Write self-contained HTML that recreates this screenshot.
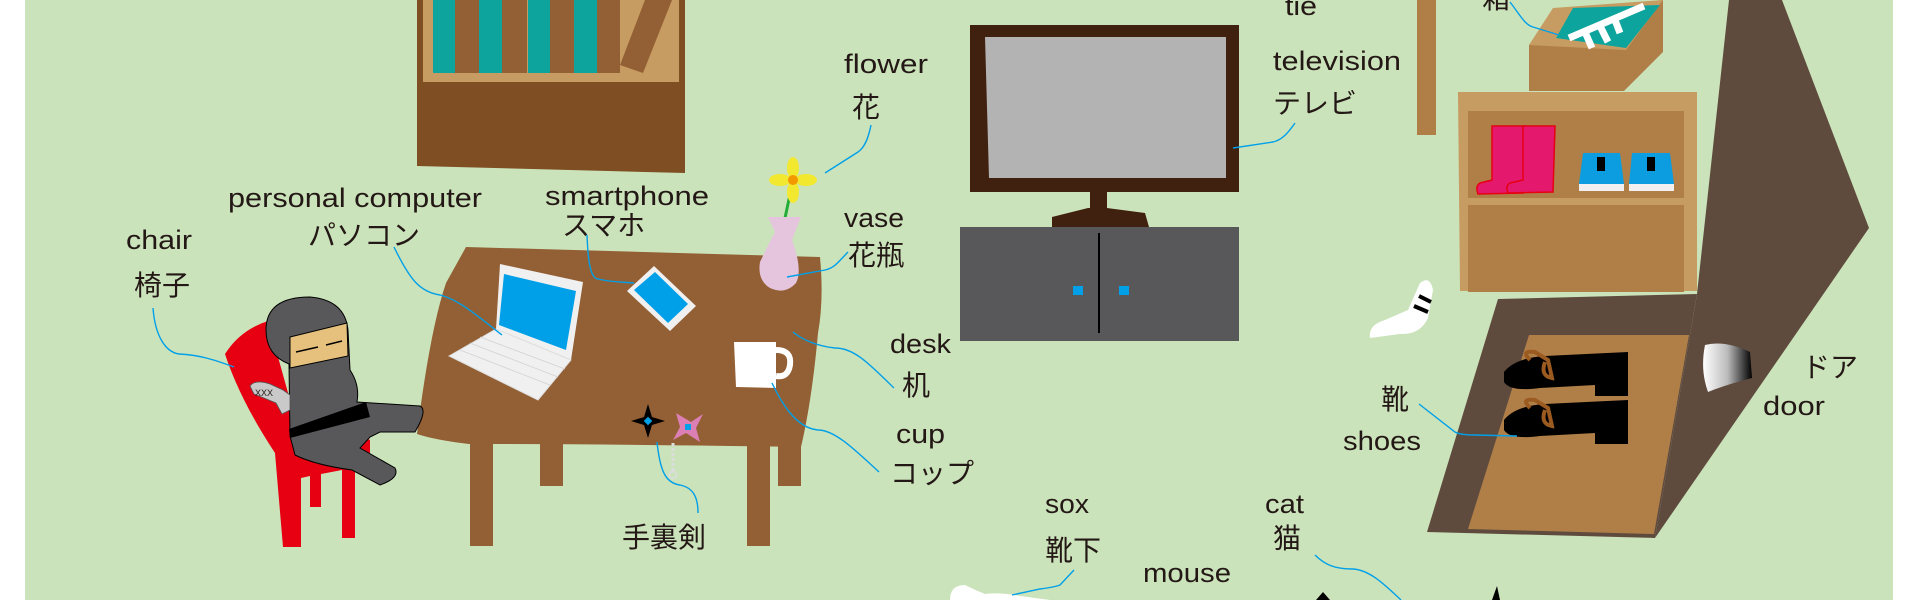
<!DOCTYPE html>
<html><head><meta charset="utf-8"><style>
html,body{margin:0;padding:0;background:#fff;}
svg{display:block;}
text{font-family:"Liberation Sans","Noto Sans CJK JP",sans-serif;fill:#231815;}
.l{font-size:27px;}
.j{font-size:28px;}
.c{fill:none;stroke:#00a0e9;stroke-width:1.4;}
</style></head><body>
<svg width="1920" height="600" viewBox="0 0 1920 600" xmlns="http://www.w3.org/2000/svg">
<defs>
<linearGradient id="hg" x1="0" x2="1" y1="0" y2="0"><stop offset="0" stop-color="#fff"/><stop offset="0.5" stop-color="#bbb"/><stop offset="1" stop-color="#000"/></linearGradient>
</defs>
<rect x="25" y="0" width="1868" height="600" fill="#cbe3bb"/>

<!-- bookshelf -->
<polygon points="417,0 685,0 685,173 417,166" fill="#7f4e22"/>
<rect x="423" y="0" width="256" height="82" fill="#c69c62"/>
<rect x="433" y="0" width="22" height="73" fill="#0ca49c"/>
<rect x="455" y="0" width="24" height="73" fill="#935f34"/>
<rect x="479" y="0" width="23" height="73" fill="#0ca49c"/>
<rect x="502" y="0" width="25" height="73" fill="#935f34"/>
<rect x="528" y="0" width="22" height="73" fill="#0ca49c"/>
<rect x="550" y="0" width="24" height="73" fill="#935f34"/>
<rect x="574" y="0" width="23" height="73" fill="#0ca49c"/>
<rect x="597" y="0" width="23" height="73" fill="#935f34"/>
<polygon points="645,0 672,0 643,73 620,65" fill="#935f34"/>

<!-- desk -->
<path d="M466,247 L820,257 Q824,300 818,333 Q812,400 801,447 Q620,444 469,444 Q435,440 417,434 Q430,330 446,283 Z" fill="#935f34"/>
<rect x="470" y="440" width="23" height="106" fill="#935f34"/>
<rect x="540" y="440" width="23" height="46" fill="#935f34"/>
<rect x="747" y="440" width="23" height="106" fill="#935f34"/>
<rect x="778" y="440" width="23" height="46" fill="#935f34"/>

<!-- laptop -->
<polygon points="500,264 583,282 571,360 496,329" fill="#f0f0f0"/>
<polygon points="504,274 576,291 566,350 499,325" fill="#00a0e9"/>
<polygon points="449,356 496,329 571,360 538,400" fill="#f0f0f0" stroke="#ddd" stroke-width="1"/>
<g stroke="#d2d2d2" stroke-width="0.8">
<line x1="460" y1="350" x2="550" y2="385"/><line x1="470" y1="343" x2="558" y2="377"/><line x1="480" y1="337" x2="565" y2="369"/>
</g>
<!-- phone -->
<polygon points="627,291 654,266 696,306 670,331" fill="#f0f0f0"/>
<polygon points="634,290 655,272 688,304 668,323" fill="#00a0e9"/>

<!-- vase & flower -->
<line x1="785" y1="218" x2="792" y2="185" stroke="#22ac38" stroke-width="3"/>
<ellipse cx="793" cy="168" rx="6" ry="11" fill="#f2e830"/>
<ellipse cx="793" cy="192" rx="6" ry="11" fill="#f2e830"/>
<ellipse cx="780" cy="180" rx="11" ry="6" fill="#f2e830"/>
<ellipse cx="806" cy="180" rx="11" ry="6" fill="#f2e830"/>
<circle cx="793" cy="180" r="5" fill="#f39800"/>
<path d="M768,217 L801,217 L792,240 Q803,270 796,283 Q785,295 770,288 Q757,280 760,262 Q768,245 775,232 Z" fill="#e5c4dd"/>

<!-- cup -->
<path d="M734,342 L776,342 L776,388 L736,387 Z" fill="#fff"/>
<path d="M776,350 Q792,350 790,365 Q788,378 776,376" fill="none" stroke="#fff" stroke-width="6"/>

<!-- shuriken -->
<path d="M648,404 L652,417 L665,421 L652,425 L648,438 L644,425 L631,421 L644,417 Z" fill="#000"/>
<rect x="645" y="418" width="6" height="6" fill="#00a0e9" transform="rotate(45 648 421)"/>
<path d="M676,413 L691,422 L703,414 L696,428 L700,442 L686,433 L673,440 L680,427 Z" fill="#dc7fb4"/>
<rect x="685" y="424" width="6" height="6" fill="#00a0e9"/>
<line x1="673" y1="443" x2="673" y2="472" stroke="#ddd" stroke-width="3" stroke-dasharray="3,2"/>
<circle cx="673" cy="475" r="3.5" fill="none" stroke="#ddd" stroke-width="1.5"/>

<!-- chair -->
<path d="M225,354 Q240,330 268,321 L290,400 L370,440 L370,465 L355,468 L355,538 L342,538 L342,470 L321,474 L321,507 L310,507 L310,476 L301,478 L301,547 L283,547 L275,453 Q240,400 225,354 Z" fill="#e60012"/>

<!-- ninja -->
<path d="M290,436 L289,364 Q266,355 266,330 Q266,297 310,297 Q345,300 348,330 L350,370 Q360,385 357,402 L420,406 Q428,410 415,432 L380,432 L370,437 L360,448 L395,468 Q400,478 380,485 L352,470 Q315,465 295,455 Z" fill="#58585a" stroke="#000" stroke-width="1"/>
<polygon points="289,429 366,402 370,417 290,438" fill="#000"/>
<polygon points="290,337 347,323 348,356 290,368" fill="#e6c17e" stroke="#000" stroke-width="1"/>
<line x1="296" y1="352" x2="318" y2="347" stroke="#000" stroke-width="1.5"/>
<line x1="326" y1="345" x2="342" y2="341" stroke="#000" stroke-width="1.5"/>
<path d="M250,386 Q255,379 270,384 L283,390 L290,395 L290,410 L282,414 L276,403 L254,394 Z" fill="#c9c9c9" stroke="#555" stroke-width="0.8"/>
<text x="255" y="396" style="font-size:9px">XXX</text>

<!-- TV -->
<polygon points="970,25 1239,25 1239,192 970,192" fill="#40200f"/>
<polygon points="985,37 1226,37 1226,178 989,178" fill="#b3b3b3"/>
<rect x="1090" y="190" width="17" height="20" fill="#40200f"/>
<polygon points="1052,217 1088,208 1107,208 1145,213 1149,227 1052,227" fill="#40200f"/>
<rect x="960" y="227" width="279" height="114" fill="#58585a"/>
<line x1="1099" y1="233" x2="1099" y2="333" stroke="#000" stroke-width="2"/>
<rect x="1073" y="286" width="10" height="9" fill="#00a0e9"/>
<rect x="1119" y="286" width="10" height="9" fill="#00a0e9"/>

<!-- tan bar -->
<rect x="1417" y="0" width="19" height="135" fill="#b07f48"/>

<!-- box -->
<polygon points="1529,45 1555,10 1663,0 1663,52 1624,91 1529,91" fill="#b07f48"/>
<polygon points="1529,45 1553,8 1663,0 1626,50" fill="#c69c62"/>
<polygon points="1556,38 1573,8 1660,5 1626,48" fill="#0ca49c"/>
<path d="M1569,38 L1644,6 M1585,32 L1592,48 M1600,26 L1608,42 M1615,20 L1620,33" stroke="#fff" stroke-width="7" fill="none"/>

<!-- shoe shelf -->
<polygon points="1458,92 1697,92 1697,291 1460,291" fill="#c69c62"/>
<rect x="1468" y="111" width="216" height="87" fill="#b07f48"/>
<rect x="1468" y="205" width="216" height="87" fill="#b07f48"/>
<path d="M1492,126 L1525,126 L1523,193 L1478,194 Q1475,186 1480,183 L1492,180 Z" fill="#e4196e" stroke="#e60012" stroke-width="1.5"/>
<path d="M1523,126 L1555,126 L1553,192 L1508,193 Q1505,186 1510,183 L1523,180 Z" fill="#e4196e" stroke="#e60012" stroke-width="1.5"/>
<path d="M1583,153 L1620,153 L1624,184 L1579,184 Z" fill="#0b9de0"/>
<rect x="1579" y="184" width="45" height="7" fill="#f0f0f0"/>
<path d="M1632,153 L1670,153 L1674,184 L1629,184 Z" fill="#0b9de0"/>
<rect x="1629" y="184" width="45" height="7" fill="#f0f0f0"/>
<rect x="1597" y="157" width="8" height="14" fill="#000"/>
<rect x="1647" y="157" width="8" height="14" fill="#000"/>

<!-- door -->
<polygon points="1498,299 1697,294 1655,538 1427,532" fill="#5f4b3e"/>
<polygon points="1729,0 1782,0 1869,228 1655,538 1697,294" fill="#5f4b3e"/>
<polygon points="1529,335 1689,335 1654,534 1468,529" fill="#b07f48"/>
<path d="M1705,345 Q1725,340 1750,352 L1752,378 Q1725,385 1708,392 Q1700,370 1705,345 Z" fill="url(#hg)"/>
<!-- shoes -->
<path d="M1504,372 Q1515,358 1545,356 L1628,352 L1628,396 L1595,396 L1595,385 L1540,388 Q1510,392 1504,382 Z" fill="#000"/>
<path d="M1504,420 Q1515,406 1545,404 L1628,400 L1628,444 L1595,444 L1595,433 L1540,436 Q1510,440 1504,430 Z" fill="#000"/>
<path d="M1530,360 Q1520,350 1535,352 L1548,360 L1552,378 Q1540,376 1545,362" fill="none" stroke="#9a5a20" stroke-width="4"/>
<path d="M1530,408 Q1520,398 1535,400 L1548,408 L1552,426 Q1540,424 1545,410" fill="none" stroke="#9a5a20" stroke-width="4"/>

<!-- sock -->
<path d="M1370,338 Q1368,325 1385,320 L1408,310 L1420,283 Q1430,275 1433,290 L1428,318 Q1420,335 1400,334 Z" fill="#fff"/>
<line x1="1414" y1="306" x2="1428" y2="312" stroke="#000" stroke-width="4"/>
<line x1="1419" y1="296" x2="1431" y2="302" stroke="#000" stroke-width="4"/>

<!-- bottom items -->
<path d="M950,600 Q950,585 965,585 Q975,590 985,594 Q1000,592 1020,596 L1050,600 Z" fill="#fff"/>
<path d="M1316,600 L1323,592 L1330,600 Z" fill="#000"/>
<path d="M1492,600 L1497,586 L1500,600 Z" fill="#000"/>

<!-- connectors -->
<path class="c" d="M153,308 C155,335 165,352 179,354 C200,355 215,360 234,367"/>
<path class="c" d="M394,247 C410,280 420,292 440,295 C460,300 480,318 502,335"/>
<path class="c" d="M587,235 C588,260 590,278 598,279 C610,282 622,282 634,283"/>
<path class="c" d="M871,125 C868,140 864,148 858,152 L825,173"/>
<path class="c" d="M848,252 C840,260 835,268 825,270 L787,277"/>
<path class="c" d="M894,388 C870,365 855,348 835,348 C815,346 800,338 793,332"/>
<path class="c" d="M879,472 C855,450 835,430 818,430 C795,428 780,400 772,383"/>
<path class="c" d="M657,442 C660,470 665,483 680,485 C695,488 698,500 698,513"/>
<path class="c" d="M1295,123 C1288,133 1282,140 1273,142 L1233,148"/>
<path class="c" d="M1510,2 C1520,15 1525,25 1533,27 L1559,35"/>
<path class="c" d="M1419,404 L1455,432 Q1460,435 1475,435 L1517,436"/>
<path class="c" d="M1074,570 L1060,585 Q1055,587 1040,589 L1012,595"/>
<path class="c" d="M1315,555 C1325,565 1335,569 1353,569 C1370,570 1385,585 1401,600"/>

<!-- labels -->
<text class="l" x="126" y="249" textLength="66" lengthAdjust="spacingAndGlyphs">chair</text>
<text class="j" x="134" y="295">椅子</text>
<text class="l" x="228" y="207" textLength="254" lengthAdjust="spacingAndGlyphs">personal computer</text>
<text class="j" x="308" y="245">パソコン</text>
<text class="l" x="545" y="205" textLength="164" lengthAdjust="spacingAndGlyphs">smartphone</text>
<text class="j" x="562" y="235">スマホ</text>
<text class="l" x="844" y="73" textLength="84" lengthAdjust="spacingAndGlyphs">flower</text>
<text class="j" x="852" y="117">花</text>
<text class="l" x="844" y="227" textLength="60" lengthAdjust="spacingAndGlyphs">vase</text>
<text class="j" x="848" y="265">花瓶</text>
<text class="l" x="890" y="353" textLength="61" lengthAdjust="spacingAndGlyphs">desk</text>
<text class="j" x="902" y="395">机</text>
<text class="l" x="896" y="443" textLength="49" lengthAdjust="spacingAndGlyphs">cup</text>
<text class="j" x="890" y="483">コップ</text>
<text class="j" x="622" y="547">手裏剣</text>
<text class="l" x="1273" y="70" textLength="128" lengthAdjust="spacingAndGlyphs">television</text>
<text class="j" x="1273" y="113">テレビ</text>
<text class="l" x="1285" y="15" textLength="32" lengthAdjust="spacingAndGlyphs">tie</text>
<text class="j" x="1482" y="8">箱</text>
<text class="j" x="1802" y="377">ドア</text>
<text class="l" x="1763" y="415" textLength="62" lengthAdjust="spacingAndGlyphs">door</text>
<text class="j" x="1381" y="409">靴</text>
<text class="l" x="1343" y="450" textLength="78" lengthAdjust="spacingAndGlyphs">shoes</text>
<text class="l" x="1045" y="513" textLength="44" lengthAdjust="spacingAndGlyphs">sox</text>
<text class="j" x="1045" y="560">靴下</text>
<text class="l" x="1143" y="582" textLength="88" lengthAdjust="spacingAndGlyphs">mouse</text>
<text class="l" x="1265" y="513" textLength="39" lengthAdjust="spacingAndGlyphs">cat</text>
<text class="j" x="1273" y="548">猫</text>
</svg>
</body></html>
